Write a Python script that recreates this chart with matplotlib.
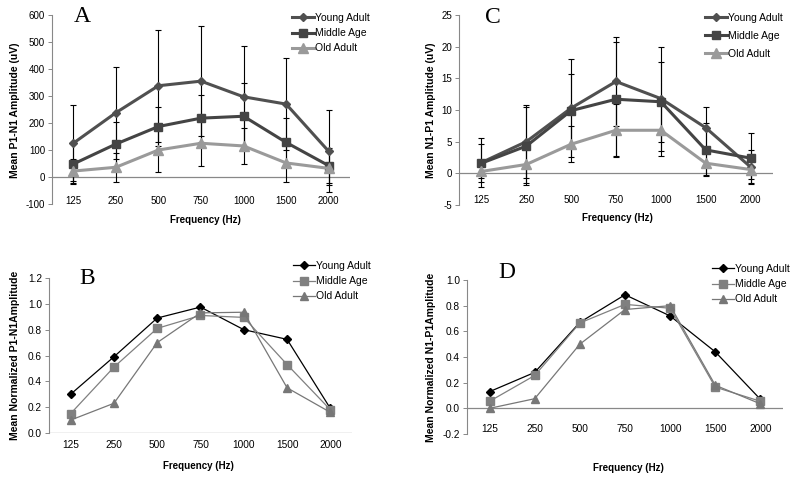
import numpy as np
import matplotlib
matplotlib.use('Agg')
import matplotlib.pyplot as plt

plt.rcParams['font.family'] = ['Liberation Sans', 'DejaVu Sans']

freqs = ['125', '250', '500', '750', '1000', '1500', '2000']
groups = ['Young Adult', 'Middle Age', 'Old Adult']

# Panel A: P1-N1 amplitude (uV), mean and SD
a_young = [125, 238, 338, 355, 297, 270, 95]
a_young_sd = [140, 170, 207, 203, 188, 170, 152]
a_middle = [48, 122, 187, 218, 225, 128, 42]
a_middle_sd = [75, 83, 73, 87, 122, 92, 65]
a_old = [22, 36, 100, 125, 115, 52, 32]
a_old_sd = [45, 54, 83, 83, 67, 70, 62]

# Panel C: N1-P1 amplitude (uV), mean and SD
c_young = [1.7, 5.0, 10.3, 14.5, 11.8, 7.2, 1.0]
c_young_sd = [3.9, 5.8, 7.8, 7.0, 8.2, 3.3, 2.7]
c_middle = [1.6, 4.3, 9.9, 11.7, 11.3, 3.7, 2.4]
c_middle_sd = [3.0, 6.1, 5.8, 9.1, 6.3, 4.2, 3.9]
c_old = [0.3, 1.4, 4.6, 6.8, 6.8, 1.6, 0.6]
c_old_sd = [1.1, 2.9, 2.8, 4.1, 4.0, 1.9, 1.5]

# Panel B: normalized P1-N1
b_young = [0.30, 0.59, 0.89, 0.975, 0.80, 0.725, 0.19]
b_middle = [0.15, 0.51, 0.81, 0.91, 0.895, 0.53, 0.18]
b_old = [0.10, 0.23, 0.70, 0.93, 0.935, 0.35, 0.16]

# Panel D: normalized N1-P1
d_young = [0.13, 0.28, 0.67, 0.885, 0.72, 0.44, 0.07]
d_middle = [0.055, 0.256, 0.665, 0.81, 0.78, 0.165, 0.055]
d_old = [0.0, 0.075, 0.50, 0.77, 0.80, 0.18, 0.035]

W, H = 800, 484
fig = plt.figure(figsize=(8, 4.84), dpi=100)
fig.patch.set_facecolor('white')


def make_axes(left, right, top, bottom):
    # pixel box -> figure fraction
    return fig.add_axes([left / W, 1 - bottom / H, (right - left) / W, (bottom - top) / H])


def px_to_axes(ax, px, py):
    box = ax.get_position()
    return ((px / W - box.x0) / box.width, ((1 - py / H) - box.y0) / box.height)


def style_axes(ax, ylim, yticks, yfmt, xpad, ylabel, ylab_px, xlab_px, fs):
    x = np.arange(len(freqs))
    ax.set_xlim(-0.5, len(freqs) - 0.5)
    ax.set_ylim(*ylim)
    ax.set_yticks(yticks)
    ax.set_yticklabels([yfmt.format(v) for v in yticks], fontsize=fs)
    ax.set_xticks(x)
    ax.set_xticklabels(freqs, fontsize=fs)
    ax.tick_params(axis='x', length=0, pad=xpad)
    ax.tick_params(axis='y', length=3, width=0.7, color='#888888', pad=2)
    for s in ['top', 'right', 'bottom']:
        ax.spines[s].set_visible(False)
    ax.spines['left'].set_color('#888888')
    ax.spines['left'].set_linewidth(0.8)
    ax.axhline(0, color='#888888', lw=0.9, zorder=1)
    ax.set_ylabel(ylabel, fontsize=7.5, fontweight='bold')
    ax.yaxis.set_label_coords(*px_to_axes(ax, *ylab_px))
    ax.set_xlabel('Frequency (Hz)', fontsize=7, fontweight='bold')
    ax.xaxis.set_label_coords(*px_to_axes(ax, *xlab_px))
    ax.xaxis.label.set_va('center')
    ax.yaxis.label.set_va('center')
    ax.patch.set_alpha(0)


def add_legend(ax, anchor_px, spacing):
    ax.legend(loc='upper left', bbox_to_anchor=(anchor_px[0] / W, 1 - anchor_px[1] / H),
              bbox_transform=fig.transFigure, frameon=False, fontsize=7.5,
              handlelength=2.1, handletextpad=0.15, labelspacing=spacing,
              borderpad=0, borderaxespad=0)


def amp_panel(ax, series, sds):
    styles = [('#505050', 'D', 4.5), ('#444444', 's', 6), ('#9a9a9a', '^', 6.5)]
    for (col, mk, ms), y, sd, name in zip(styles, series, sds, groups):
        ax.errorbar(x, y, yerr=sd, fmt='none', ecolor='black', elinewidth=0.8,
                    capsize=2.5, capthick=0.8, zorder=2)
        ax.plot(x, y, color=col, lw=2.2, marker=mk, ms=ms, label=name, zorder=3)


def norm_panel(ax, series):
    styles = [('black', 'D', 4.5), ('#808080', 's', 5.5), ('#777777', '^', 5.5)]
    for (col, mk, ms), y, name in zip(styles, series, groups):
        ax.plot(x, y, color=col, lw=0.9, marker=mk, ms=ms, label=name, zorder=3)


def panel_letter(ax, letter, px, py):
    ax.text(*px_to_axes(ax, px, py), letter, transform=ax.transAxes, fontsize=17,
            family='Liberation Serif', ha='center', va='center')


x = np.arange(len(freqs))

# ---------- Panel A ----------
axA = make_axes(52, 350, 15, 204)
amp_panel(axA, [a_young, a_middle, a_old], [a_young_sd, a_middle_sd, a_old_sd])
style_axes(axA, (-100, 600), np.arange(-100, 601, 100), '{:.0f}', -6,
           'Mean P1-N1 Amplitude (uV)', (15, 110), (205, 220), 7)
add_legend(axA, (292, 13), 0.5)
panel_letter(axA, 'A', 82, 17)

# ---------- Panel C ----------
axC = make_axes(459, 773, 15, 205)
amp_panel(axC, [c_young, c_middle, c_old], [c_young_sd, c_middle_sd, c_old_sd])
style_axes(axC, (-5, 25), np.arange(-5, 26, 5), '{:.0f}', -7,
           'Mean N1-P1 Amplitude (uV)', (431, 110), (617, 218), 7)
add_legend(axC, (705, 13), 0.75)
panel_letter(axC, 'C', 493, 17)

# ---------- Panel B ----------
axB = make_axes(49, 352, 278, 433)
norm_panel(axB, [b_young, b_middle, b_old])
style_axes(axB, (0, 1.2), np.arange(0, 1.21, 0.2), '{:.1f}', 5,
           'Mean Normalized P1-N1Amplitude', (15, 355), (198, 466), 7.3)
add_legend(axB, (293, 261), 0.5)
panel_letter(axB, 'B', 87, 278)

# ---------- Panel D ----------
axD = make_axes(467, 783, 280, 434)
norm_panel(axD, [d_young, d_middle, d_old])
style_axes(axD, (-0.2, 1.0), np.arange(-0.2, 1.01, 0.2), '{:.1f}', -7,
           'Mean Normalized N1-P1Amplitude', (431, 357), (628, 468), 7.3)
add_legend(axD, (712, 264), 0.5)
panel_letter(axD, 'D', 507, 273)

fig.savefig('out.png', dpi=100, facecolor='white')
